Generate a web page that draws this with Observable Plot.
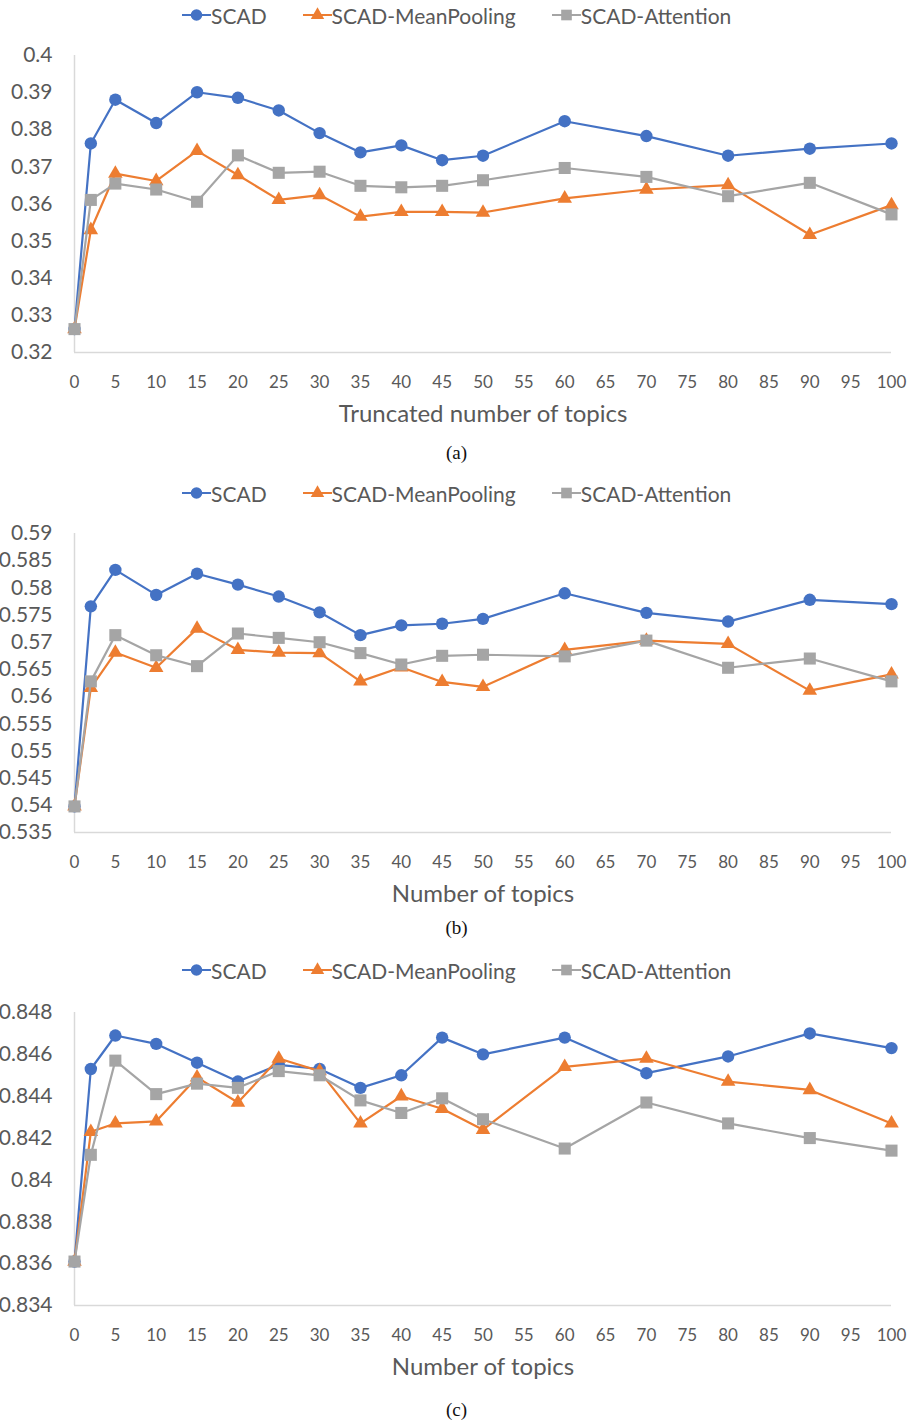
<!DOCTYPE html>
<html>
<head>
<meta charset="utf-8">
<script src="https://cdn.jsdelivr.net/npm/d3@7"></script>
<script src="https://cdn.jsdelivr.net/npm/@observablehq/plot@0.6"></script>
<style>
  html, body { margin: 0; padding: 0; background: #ffffff; }
  #root { position: relative; width: 913px; height: 1424px; overflow: hidden; background: #fff; }
  .legend { position: absolute; left: 0; width: 913px; height: 28px; display: flex; align-items: center;
            font-family: Lato, "Open Sans", sans-serif; font-size: 21px; color: #595959; }
  .legend .item { display: flex; align-items: center; }
  .legend svg { display: block; }
  .caption { position: absolute; left: 0; width: 913px; text-align: center;
             font-family: "Liberation Serif", "Times New Roman", serif; font-size: 19px; color: #111; line-height: 20px; }
  .panel { position: absolute; left: 0; }
</style>
</head>
<body>
<div id="root"></div>
<script>
// ---------- data ----------
const xTopics = [0, 2, 5, 10, 15, 20, 25, 30, 35, 40, 45, 50, 60, 70, 80, 90, 100];
const xTicks = [0, 5, 10, 15, 20, 25, 30, 35, 40, 45, 50, 55, 60, 65, 70, 75, 80, 85, 90, 95, 100];

const seriesNames = ["SCAD", "SCAD-MeanPooling", "SCAD-Attention"];
const seriesColors = ["#4472C4", "#ED7D31", "#A5A5A5"];
const seriesSymbols = ["circle", "triangle", "square"];

// panel (a)
const aScad = [0.3263, 0.3763, 0.3881, 0.3818, 0.3901, 0.3886, 0.3852, 0.3791, 0.3739, 0.3758, 0.3718, 0.3730, 0.3823, 0.3783, 0.3730, 0.3749, 0.3763];
const aMean = [0.3263, 0.3530, 0.3682, 0.3662, 0.3743, 0.3678, 0.3611, 0.3624, 0.3566, 0.3579, 0.3579, 0.3577, 0.3615, 0.3639, 0.3651, 0.3517, 0.3597];
const aAtt  = [0.3263, 0.3611, 0.3655, 0.3639, 0.3606, 0.3731, 0.3684, 0.3687, 0.3649, 0.3645, 0.3649, 0.3664, 0.3697, 0.3673, 0.3621, 0.3657, 0.3572];
const yTicksA = [0.32, 0.33, 0.34, 0.35, 0.36, 0.37, 0.38, 0.39, 0.4];

// panel (b)
const bScad = [0.5398, 0.5766, 0.5833, 0.5787, 0.5826, 0.5806, 0.5784, 0.5755, 0.5713, 0.5731, 0.5734, 0.5743, 0.5790, 0.5754, 0.5738, 0.5778, 0.5770];
const bMean = [0.5398, 0.5616, 0.5681, 0.5653, 0.5725, 0.5686, 0.5681, 0.5680, 0.5628, 0.5654, 0.5627, 0.5618, 0.5686, 0.5703, 0.5697, 0.5611, 0.5641];
const bAtt  = [0.5398, 0.5628, 0.5713, 0.5676, 0.5656, 0.5716, 0.5708, 0.5700, 0.5680, 0.5659, 0.5675, 0.5677, 0.5674, 0.5703, 0.5653, 0.5670, 0.5628];
const yTicksB = [0.535, 0.54, 0.545, 0.55, 0.555, 0.56, 0.565, 0.57, 0.575, 0.58, 0.585, 0.59];

// panel (c)
const cScad = [0.8361, 0.8453, 0.8469, 0.8465, 0.8456, 0.8447, 0.8455, 0.8453, 0.8444, 0.8450, 0.8468, 0.8460, 0.8468, 0.8451, 0.8459, 0.8470, 0.8463];
const cMean = [0.8361, 0.8423, 0.8427, 0.8428, 0.8449, 0.8437, 0.8458, 0.8452, 0.8427, 0.8440, 0.8434, 0.8424, 0.8454, 0.8458, 0.8447, 0.8443, 0.8427];
const cAtt  = [0.8361, 0.8412, 0.8457, 0.8441, 0.8446, 0.8444, 0.8452, 0.8450, 0.8438, 0.8432, 0.8439, 0.8429, 0.8415, 0.8437, 0.8427, 0.8420, 0.8414];
const yTicksC = [0.834, 0.836, 0.838, 0.84, 0.842, 0.844, 0.846, 0.848];

const xLabels = ["Truncated number of topics", "Number of topics", "Number of topics"];
const captions = ["(a)", "(b)", "(c)"];

// ---------- layout ----------
const panels = [
  {series: [aScad, aMean, aAtt], yTicks: yTicksA, legendY: 15, plotTop: 55, plotBottom: 352, captionY: 453},
  {series: [bScad, bMean, bAtt], yTicks: yTicksB, legendY: 493, plotTop: 533, plotBottom: 832, captionY: 928},
  {series: [cScad, cMean, cAtt], yTicks: yTicksC, legendY: 970, plotTop: 1012, plotBottom: 1305, captionY: 1410}
];

const root = document.getElementById("root");
const symbolR = {circle: 6.2, triangle: 5.4, square: 6.8};

function legendSymbol(color, sym) {
  const ns = "http://www.w3.org/2000/svg";
  const svg = document.createElementNS(ns, "svg");
  svg.setAttribute("width", 29); svg.setAttribute("height", 16);
  const line = document.createElementNS(ns, "line");
  line.setAttribute("x1", 0); line.setAttribute("x2", 29); line.setAttribute("y1", 8); line.setAttribute("y2", 8);
  line.setAttribute("stroke", color); line.setAttribute("stroke-width", 2);
  svg.appendChild(line);
  const p = document.createElementNS(ns, "path");
  const symType = sym === "circle" ? d3.symbolCircle : sym === "triangle" ? d3.symbolTriangle : d3.symbolSquare;
  const r = sym === "circle" ? 5.8 : sym === "triangle" ? 5.0 : 6.0;
  p.setAttribute("d", d3.symbol(symType, Math.PI * r * r)());
  p.setAttribute("transform", "translate(14.5,8)");
  p.setAttribute("fill", color);
  svg.appendChild(p);
  return svg;
}

panels.forEach((pn, pi) => {
  // legend
  const lg = document.createElement("div");
  lg.className = "legend";
  lg.style.top = (pn.legendY - 14) + "px";
  lg.style.paddingLeft = "182px";
  seriesNames.forEach((name, i) => {
    const it = document.createElement("div");
    it.className = "item";
    it.style.marginRight = "36px";
    it.appendChild(legendSymbol(seriesColors[i], seriesSymbols[i]));
    const t = document.createElement("span");
    t.textContent = name;
    it.appendChild(t);
    lg.appendChild(it);
  });
  root.appendChild(lg);

  // data
  const rows = [];
  seriesNames.forEach((name, si) => {
    pn.series[si].forEach((v, k) => rows.push({series: name, topics: xTopics[k], value: v}));
  });

  const marginTop = 20, marginBottom = 82;
  const height = marginTop + (pn.plotBottom - pn.plotTop) + marginBottom;
  const yMin = pn.yTicks[0], yMax = pn.yTicks[pn.yTicks.length - 1];

  const marks = [
    Plot.ruleX([0], {y1: yMin, y2: yMax, stroke: "#d9d9d9", strokeWidth: 1.5}),
    Plot.ruleY([yMin], {x1: 0, x2: 100, stroke: "#d9d9d9", strokeWidth: 1.5}),
    Plot.axisX({ticks: xTicks, tickSize: 0, tickPadding: 23, fontSize: 17, fill: "#595959", label: null, fontFamily: "Lato"}),
    Plot.axisY({ticks: pn.yTicks, tickSize: 0, tickPadding: 22, fontSize: 21, fill: "#595959", label: null,
                tickFormat: d => String(d), fontFamily: "Lato"}),
    Plot.text([xLabels[pi]], {frameAnchor: "bottom", dy: 62, fontSize: 24, fill: "#595959", fontFamily: "Lato", lineAnchor: "middle"})
  ];
  seriesNames.forEach((name, si) => {
    const d = rows.filter(r => r.series === name);
    marks.push(Plot.line(d, {x: "topics", y: "value", stroke: seriesColors[si], strokeWidth: 2.2}));
    marks.push(Plot.dot(d, {x: "topics", y: "value", fill: seriesColors[si], symbol: seriesSymbols[si], r: symbolR[seriesSymbols[si]]}));
  });

  const chart = Plot.plot({
    width: 913,
    height,
    marginTop, marginBottom,
    marginLeft: 74, marginRight: 22,
    x: {domain: [0, 100]},
    y: {domain: [yMin, yMax]},
    style: {background: "white", fontFamily: "Lato", overflow: "visible"},
    marks
  });
  const wrap = document.createElement("div");
  wrap.className = "panel";
  wrap.style.top = (pn.plotTop - marginTop) + "px";
  wrap.appendChild(chart);
  root.appendChild(wrap);

  const cap = document.createElement("div");
  cap.className = "caption";
  cap.style.top = (pn.captionY - 10) + "px";
  cap.textContent = captions[pi];
  root.appendChild(cap);
});
</script>
</body>
</html>
